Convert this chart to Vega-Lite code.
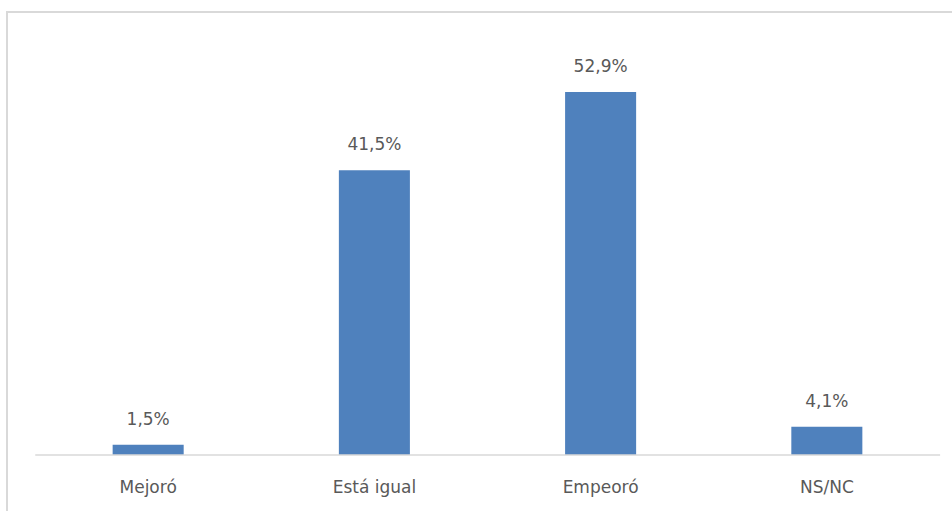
{
  "$schema": "https://vega.github.io/schema/vega-lite/v6.json",
  "autosize": {"type": "none"},
  "padding": {"left": 7, "top": 12, "right": 0, "bottom": 0},
  "width": 961,
  "height": 505,
  "background": "#ffffff",
  "config": {
    "view": {"stroke": "#d9d9d9", "strokeWidth": 2},
    "font": "DejaVu Sans"
  },
  "data": {
    "values": [
      {"categoria": "Mejoró", "valor": 1.5, "etiqueta": "1,5%"},
      {"categoria": "Está igual", "valor": 41.5, "etiqueta": "41,5%"},
      {"categoria": "Empeoró", "valor": 52.9, "etiqueta": "52,9%"},
      {"categoria": "NS/NC", "valor": 4.1, "etiqueta": "4,1%"}
    ]
  },
  "encoding": {
    "x": {
      "field": "categoria",
      "type": "nominal",
      "scale": {"domain": ["Mejoró", "Está igual", "Empeoró", "NS/NC"], "paddingInner": 0.686, "paddingOuter": 0.467},
      "axis": {
        "title": null,
        "domain": false,
        "ticks": false,
        "labelAngle": 0,
        "offset": -62,
        "labelFont": "DejaVu Sans",
        "labelFontSize": 17,
        "labelColor": "#595959",
        "labelBaseline": "alphabetic",
        "labelPadding": 37
      }
    },
    "y": {
      "field": "valor",
      "type": "quantitative",
      "scale": {"domain": [-9.04, 64.58], "nice": false, "zero": false},
      "axis": null
    }
  },
  "layer": [
    {
      "mark": {"type": "bar", "color": "#4f81bd"},
      "encoding": {"y2": {"datum": 0}}
    },
    {
      "mark": {"type": "text", "baseline": "alphabetic", "dy": -20, "fontSize": 17, "color": "#595959", "font": "DejaVu Sans"},
      "encoding": {"text": {"field": "etiqueta"}}
    },
    {
      "data": {"values": [{"desde": "Mejoró", "hasta": "NS/NC", "cero": 0}]},
      "mark": {"type": "rule", "color": "#d9d9d9", "strokeWidth": 1.5},
      "encoding": {
        "x": {"field": "desde", "type": "nominal", "bandPosition": -1.09},
        "x2": {"field": "hasta", "bandPosition": 2.095},
        "y": {"field": "cero", "type": "quantitative"}
      }
    }
  ]
}
